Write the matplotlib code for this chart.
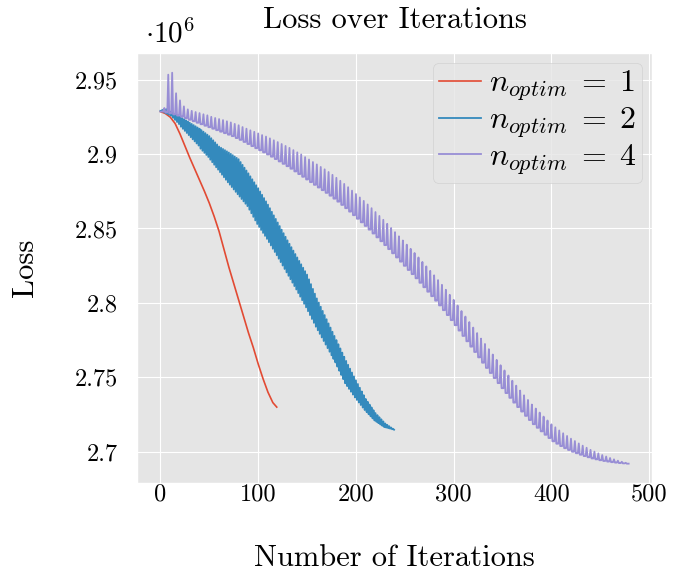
import matplotlib
matplotlib.use("Agg")
import matplotlib.pyplot as plt
import numpy as np

# loss values in units of 1e6
# n_optim = 1 (read every 5 iterations)
iters1 = [0, 5, 10, 15, 20, 25, 30, 35, 40, 45, 50, 55, 60, 65, 70, 75, 80, 85,
          90, 95, 100, 105, 110, 115, 119]
loss1 = [2.9285, 2.9272, 2.9248, 2.9205, 2.9135, 2.9055, 2.8975, 2.890, 2.8825, 2.875,
         2.867, 2.858, 2.848, 2.836, 2.824, 2.813, 2.802, 2.791, 2.780, 2.770,
         2.759, 2.749, 2.740, 2.733, 2.730]

# n_optim = 2 : loss alternates between a high and a low value each iteration
hi2 = [2.929, 2.9296, 2.9302, 2.9301, 2.9292, 2.9285, 2.9278, 2.9271, 2.9264, 2.9257,
       2.925, 2.9242, 2.9234, 2.9226, 2.9218, 2.921, 2.9202, 2.9194, 2.9186, 2.9178,
       2.917, 2.916, 2.915, 2.914, 2.913, 2.912, 2.9106, 2.9092, 2.9078, 2.9064,
       2.905, 2.9042, 2.9034, 2.9026, 2.9018, 2.901, 2.9001, 2.8992, 2.8983, 2.8974,
       2.8965, 2.8946, 2.8927, 2.8908, 2.8889, 2.887, 2.885, 2.883, 2.881, 2.879,
       2.877, 2.8748, 2.8726, 2.8704, 2.8682, 2.866, 2.8636, 2.8612, 2.8588, 2.8564,
       2.854, 2.8516, 2.8492, 2.8468, 2.8444, 2.842, 2.8397, 2.8374, 2.8351, 2.8328,
       2.8305, 2.8282, 2.8259, 2.8236, 2.8213, 2.819, 2.8158, 2.8126, 2.8094, 2.8062,
       2.803, 2.8002, 2.7974, 2.7946, 2.7918, 2.789, 2.7862, 2.7834, 2.7806, 2.7778,
       2.775, 2.7722, 2.7694, 2.7666, 2.7638, 2.761, 2.7584, 2.7558, 2.7532, 2.7506,
       2.748, 2.7455, 2.743, 2.7405, 2.738, 2.7355, 2.7336, 2.7317, 2.7298, 2.7279,
       2.726, 2.7246, 2.7232, 2.7218, 2.7204, 2.719, 2.7181, 2.7172, 2.7163, 2.7154]
lo2 = [2.929, 2.9284, 2.9275, 2.9269, 2.9263, 2.9257, 2.9243, 2.9229, 2.9215, 2.9201,
       2.9183, 2.9169, 2.9155, 2.9141, 2.9127, 2.9113, 2.9099, 2.9085, 2.9071, 2.9057,
       2.9036, 2.9022, 2.9008, 2.8994, 2.898, 2.8962, 2.8945, 2.8928, 2.8911, 2.8895,
       2.8878, 2.8861, 2.8844, 2.8827, 2.881, 2.8794, 2.8778, 2.8762, 2.8746, 2.873,
       2.8714, 2.8698, 2.8682, 2.8666, 2.865, 2.8626, 2.8602, 2.8578, 2.8554, 2.853,
       2.851, 2.849, 2.847, 2.845, 2.843, 2.8408, 2.8386, 2.8364, 2.8342, 2.832,
       2.8297, 2.8274, 2.8251, 2.8228, 2.8205, 2.8182, 2.8159, 2.8136, 2.8113, 2.809,
       2.8066, 2.8042, 2.8018, 2.7994, 2.797, 2.7944, 2.7918, 2.7892, 2.7866, 2.784,
       2.7816, 2.7792, 2.7768, 2.7744, 2.772, 2.7696, 2.7672, 2.7648, 2.7624, 2.76,
       2.7572, 2.7544, 2.7516, 2.7488, 2.746, 2.7441, 2.7422, 2.7403, 2.7384, 2.7365,
       2.7348, 2.7331, 2.7314, 2.7297, 2.728, 2.7266, 2.7252, 2.7238, 2.7224, 2.721,
       2.7201, 2.7192, 2.7183, 2.7174, 2.7165, 2.7162, 2.7158, 2.7155, 2.7151, 2.7148]

# n_optim = 4 : spike at the start of each block of 4 iterations, then base value
peak4 = [2.9285, 2.9309, 2.9533, 2.9546, 2.9408, 2.936, 2.932, 2.930, 2.929, 2.9282,
         2.9275, 2.9267, 2.926, 2.925, 2.9242, 2.9235, 2.9228, 2.922, 2.9212, 2.9202,
         2.9193, 2.9181, 2.917, 2.9159, 2.9149, 2.9138, 2.9127, 2.9117, 2.9105, 2.9092,
         2.908, 2.9067, 2.9054, 2.9041, 2.9026, 2.9011, 2.8997, 2.8979, 2.8963, 2.8946,
         2.893, 2.8913, 2.8897, 2.8879, 2.886, 2.884, 2.882, 2.8799, 2.8777, 2.8754,
         2.8731, 2.8708, 2.8685, 2.8661, 2.8636, 2.861, 2.8584, 2.8558, 2.8531, 2.8503,
         2.8475, 2.8447, 2.8419, 2.8391, 2.8363, 2.8335, 2.8305, 2.8275, 2.8245, 2.8215,
         2.8185, 2.8153, 2.8121, 2.8088, 2.8054, 2.802, 2.7982, 2.7945, 2.7908, 2.7871,
         2.7834, 2.7797, 2.776, 2.7724, 2.7689, 2.7653, 2.7617, 2.7581, 2.7546, 2.7512,
         2.7477, 2.7444, 2.7411, 2.7379, 2.7348, 2.7317, 2.729, 2.7263, 2.7236, 2.721,
         2.7184, 2.7164, 2.7143, 2.7124, 2.7106, 2.7088, 2.7072, 2.7056, 2.7041, 2.7027,
         2.7013, 2.7001, 2.6989, 2.6978, 2.6968, 2.6958, 2.6949, 2.694, 2.6933, 2.6926]
base4 = [2.9285, 2.9279, 2.9273, 2.9266, 2.9258, 2.925, 2.924, 2.923, 2.922, 2.921,
         2.920, 2.919, 2.918, 2.917, 2.916, 2.915, 2.914, 2.913, 2.912, 2.9107,
         2.9095, 2.9081, 2.9067, 2.9053, 2.9039, 2.9025, 2.9011, 2.8997, 2.8982, 2.8966,
         2.895, 2.8934, 2.8918, 2.8901, 2.8883, 2.8865, 2.8847, 2.8829, 2.8811, 2.8793,
         2.8775, 2.8757, 2.8739, 2.872, 2.870, 2.868, 2.8658, 2.8636, 2.8613, 2.8589,
         2.8565, 2.8541, 2.8517, 2.8492, 2.8466, 2.844, 2.8414, 2.8388, 2.8361, 2.8333,
         2.8305, 2.8277, 2.8249, 2.8221, 2.8193, 2.8165, 2.8135, 2.8105, 2.8075, 2.8045,
         2.8015, 2.7983, 2.7951, 2.7918, 2.7884, 2.785, 2.7814, 2.7778, 2.7742, 2.7706,
         2.767, 2.7634, 2.7598, 2.7563, 2.7529, 2.7495, 2.7461, 2.7427, 2.7394, 2.7362,
         2.733, 2.730, 2.727, 2.7241, 2.7213, 2.7185, 2.7161, 2.7137, 2.7114, 2.7092,
         2.707, 2.7054, 2.7038, 2.7024, 2.7012, 2.700, 2.699, 2.698, 2.6971, 2.6963,
         2.6955, 2.6949, 2.6943, 2.6938, 2.6934, 2.693, 2.6927, 2.6924, 2.6922, 2.692]

labels = [r"$n_{optim}\;=\;1$", r"$n_{optim}\;=\;2$", r"$n_{optim}\;=\;4$"]
yticks = [2.7, 2.75, 2.8, 2.85, 2.9, 2.95]
ytick_labels = ["2.7", "2.75", "2.8", "2.85", "2.9", "2.95"]
xticks = [0, 100, 200, 300, 400, 500]

plt.style.use("ggplot")
plt.rcParams["font.family"] = "serif"
plt.rcParams["font.serif"] = ["cmr10"]
plt.rcParams["mathtext.fontset"] = "cm"
plt.rcParams["axes.unicode_minus"] = False
plt.rcParams["path.simplify"] = False

y2 = np.column_stack([hi2, lo2]).ravel() * 1e6
y4 = np.column_stack([peak4, base4, base4, base4]).ravel() * 1e6

fig = plt.figure(figsize=(6.75, 5.78), dpi=100)
ax = fig.add_axes([0.203, 0.164, 0.763, 0.744])

ax.plot(iters1, np.array(loss1) * 1e6, lw=1.2, label=labels[0])
ax.plot(np.arange(len(y2)), y2, lw=1.3, label=labels[1])
ax.plot(np.arange(len(y4)), y4, lw=1.3, label=labels[2])

ax.set_xticks(xticks)
ax.set_xticklabels([str(t) for t in xticks])
ax.set_yticks([v * 1e6 for v in yticks])
ax.set_yticklabels(ytick_labels)
ax.tick_params(labelsize=17.5, colors="black", length=0)
ax.tick_params(axis="y", pad=14)
ax.tick_params(axis="x", pad=0)

ax.set_xlabel("Number of Iterations", fontsize=22, color="black")
ax.set_ylabel("Loss", fontsize=22, color="black")
ax.xaxis.set_label_coords(0.5, -0.143)
ax.yaxis.set_label_coords(-0.19, 0.5)
ax.set_title("Loss over Iterations", fontsize=22, color="black", pad=18)
ax.text(0.015, 1.025, r"$\cdot 10^{6}$", transform=ax.transAxes, fontsize=21)

ax.legend(loc="upper right", fontsize=23, handlelength=1.3, borderpad=0.2,
          labelspacing=0.08, handletextpad=0.25, borderaxespad=0.3)

fig.savefig("out.png", dpi=100)
